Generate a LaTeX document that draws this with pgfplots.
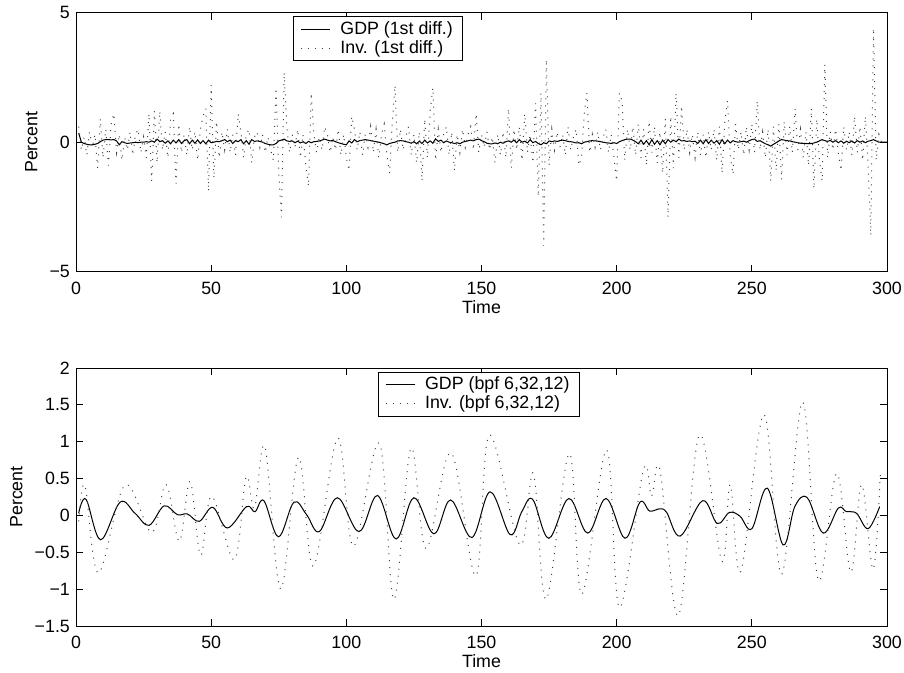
\documentclass[border=0pt]{standalone}
\usepackage{fontspec}
\setmainfont{Liberation Sans}
\usepackage{pgfplots}
\usepackage{pgfplotstable}
\pgfplotsset{compat=1.18}

\pgfplotstableread{
t gdp inv
1 0.35 0.6
2 0.0 -0.3
3 -0.05 0.2
4 -0.08 -0.5
5 -0.1 0.4
6 -0.1 -0.2
7 -0.08 0.3
8 -0.05 -1.0
9 0.02 0.9
10 0.08 -0.6
11 0.1 0.5
12 0.1 -0.9
13 0.09 0.7
14 0.1 1.1
15 0.05 -0.4
16 -0.1 0.3
17 0.02 -0.7
18 -0.02 0.2
19 -0.05 -0.3
20 -0.03 0.4
21 -0.02 -0.5
22 0.0 0.3
23 -0.02 0.5
24 0.0 -0.4
25 0.0 0.2
26 0.02 -0.6
27 0.0 1.1
28 0.05 -1.5
29 0.0 1.2
30 0.12 -0.8
31 0.02 1.2
32 0.06 -0.3
33 -0.04 0.4
34 0.05 -0.6
35 -0.06 0.9
36 0.08 1.1
37 -0.03 -1.6
38 0.1 0.7
39 -0.05 -0.4
40 0.06 0.3
41 0.1 -0.5
42 -0.06 0.6
43 0.08 -0.3
44 -0.04 0.4
45 0.09 -0.7
46 -0.05 0.5
47 0.06 1.0
48 -0.06 1.3
49 0.08 -1.9
50 -0.02 2.2
51 0.0 -1.4
52 0.03 0.8
53 0.02 -0.6
54 0.06 0.4
55 0.1 -0.3
56 0.02 0.5
57 0.08 -0.4
58 -0.05 0.3
59 0.06 -0.5
60 0.02 1.1
61 0.1 0.4
62 -0.06 -0.6
63 0.06 0.3
64 -0.08 0.5
65 0.1 -0.8
66 0.03 0.2
67 0.05 0.4
68 0.03 -0.2
69 0.0 0.3
70 -0.05 -0.4
71 -0.08 0.2
72 -0.1 -0.3
73 -0.1 -0.7
74 -0.05 2.1
75 0.05 -1.2
76 0.08 -2.9
77 0.12 2.7
78 0.05 0.6
79 0.03 -0.4
80 0.05 0.3
81 -0.02 -0.2
82 0.04 0.5
83 -0.03 -0.6
84 0.02 0.3
85 -0.05 -0.9
86 0.03 -1.7
87 -0.02 1.9
88 0.02 0.3
89 0.03 -0.4
90 0.05 0.2
91 0.08 -0.3
92 0.12 0.6
93 0.08 0.3
94 0.05 -0.4
95 0.07 0.2
96 0.02 -0.3
97 -0.02 0.5
98 -0.05 -0.5
99 -0.08 0.3
100 -0.1 -0.6
101 0.05 -1.1
102 -0.03 1.0
103 0.1 0.5
104 0.02 -0.3
105 0.06 0.4
106 0.08 -0.5
107 0.1 0.3
108 0.08 -0.2
109 0.06 0.6
110 0.04 -0.4
111 0.02 0.5
112 0.0 -0.6
113 -0.03 0.3
114 -0.06 0.7
115 -0.1 -0.5
116 -0.05 -1.2
117 -0.02 0.8
118 0.0 2.2
119 0.05 -0.4
120 0.06 0.5
121 0.05 -0.3
122 0.02 0.2
123 0.0 0.6
124 -0.04 -0.5
125 0.02 0.3
126 -0.06 -0.8
127 0.04 0.4
128 -0.05 -1.5
129 0.08 0.9
130 -0.03 -0.6
131 0.05 1.2
132 -0.04 2.1
133 0.13 -0.7
134 0.03 0.5
135 0.08 -0.4
136 -0.02 0.3
137 0.05 0.6
138 0.0 -0.5
139 -0.02 0.4
140 -0.05 -1.1
141 -0.02 0.3
142 -0.06 -0.4
143 0.0 0.5
144 0.03 -0.2
145 0.05 0.3
146 0.08 0.6
147 0.05 -0.3
148 0.1 1.1
149 0.12 -0.4
150 0.06 0.3
151 0.02 -0.2
152 -0.04 0.4
153 -0.06 -0.3
154 -0.06 0.2
155 -0.03 -0.8
156 -0.06 0.3
157 0.0 -0.5
158 -0.04 0.4
159 0.02 -0.6
160 0.05 1.3
161 0.0 -1.0
162 0.08 0.5
163 -0.02 -0.3
164 0.1 0.6
165 0.0 -0.7
166 0.04 1.1
167 -0.03 -0.4
168 0.1 0.3
169 -0.02 -0.8
170 0.03 1.5
171 -0.05 -2.1
172 -0.1 1.9
173 -0.02 -4.0
174 -0.06 3.2
175 0.05 -0.9
176 0.02 0.5
177 0.05 -0.3
178 0.03 0.4
179 0.06 -0.2
180 0.08 0.3
181 0.06 -0.5
182 0.03 0.6
183 0.02 -0.3
184 0.0 0.2
185 -0.03 0.5
186 -0.02 -0.9
187 -0.06 -0.6
188 0.0 1.1
189 0.02 1.9
190 0.05 -0.4
191 0.06 0.3
192 0.05 -0.2
193 0.04 0.4
194 0.02 -0.3
195 0.0 0.2
196 -0.02 0.5
197 -0.03 -0.4
198 -0.05 0.3
199 -0.02 -0.6
200 -0.05 -1.5
201 0.02 1.9
202 0.06 1.6
203 0.1 -0.7
204 0.12 0.5
205 0.12 -0.3
206 0.08 0.6
207 0.02 -0.5
208 -0.06 0.7
209 0.08 -0.6
210 -0.08 0.5
211 0.06 -0.9
212 -0.1 0.8
213 0.1 -0.4
214 -0.08 0.6
215 0.06 -0.8
216 -0.1 0.4
217 0.08 -1.2
218 -0.06 0.9
219 0.1 -2.9
220 0.0 1.0
221 0.08 -1.0
222 0.02 1.9
223 0.12 -0.6
224 0.05 1.4
225 0.06 -0.3
226 0.03 0.5
227 0.05 -0.4
228 0.02 0.3
229 0.04 -0.6
230 -0.05 0.4
231 0.08 -0.5
232 -0.06 0.3
233 0.1 -0.6
234 -0.05 0.4
235 0.08 -0.3
236 -0.04 0.5
237 0.06 -0.7
238 -0.08 0.6
239 0.1 -1.2
240 -0.06 0.8
241 0.08 1.6
242 -0.03 -0.5
243 0.06 -1.25
244 0.02 0.7
245 0.0 -0.3
246 0.02 0.4
247 0.04 -0.5
248 0.0 0.6
249 0.06 -0.3
250 0.1 0.7
251 0.12 -0.4
252 0.03 1.6
253 0.06 -0.3
254 0.0 0.4
255 -0.06 -0.6
256 -0.1 0.5
257 -0.15 -1.5
258 -0.08 0.6
259 -0.02 -1.1
260 0.05 0.7
261 0.1 -1.45
262 0.08 0.8
263 0.06 -0.5
264 0.05 0.6
265 0.02 -0.4
266 0.0 1.3
267 -0.02 -0.3
268 -0.04 0.5
269 -0.05 -0.6
270 -0.05 0.4
271 -0.06 -0.9
272 -0.05 1.3
273 -0.03 -1.8
274 0.0 0.9
275 0.05 -0.7
276 0.1 -1.5
277 0.06 3.0
278 0.03 -0.6
279 0.07 0.4
280 0.0 -0.3
281 0.06 0.5
282 -0.02 -0.4
283 0.05 -1.1
284 -0.04 0.6
285 0.04 -0.3
286 -0.02 0.4
287 0.05 -0.5
288 -0.03 1.0
289 0.06 -0.4
290 0.0 0.6
291 0.05 -0.7
292 -0.02 1.0
293 0.04 -0.9
294 0.06 -3.6
295 0.1 4.4
296 0.05 -0.7
297 0.0 0.3
298 0.0 0.0
299 0.0 0.0
300 0.0 0.0
}\diffdata

\pgfplotstableread{
t v
1 0.03
3.7 0.22
9.1 -0.33
16.3 0.18
21.8 0.03
27 -0.135
32.6 0.13
37.5 0.01
41.2 0.02
45.6 -0.08
50.6 0.11
56 -0.17
63.1 0.12
66.2 0.05
69.5 0.2
74.9 -0.29
80.6 0.18
85.3 0.01
90 -0.22
96.7 0.24
104.7 -0.22
111.5 0.27
118.4 -0.32
125 0.24
132.4 -0.25
138.6 0.21
146.4 -0.30
153.2 0.32
160.6 -0.26
164.9 0.05
168.9 0.22
174.9 -0.31
182.3 0.23
189.3 -0.24
196.1 0.23
203.1 -0.31
208.6 0.18
212.2 0.06
216 0.09
218.5 0.04
223.5 -0.28
231.8 0.2
237.2 -0.11
241.7 0.04
245.6 -0.01
250 -0.18
255.7 0.37
261.6 -0.40
265.9 0.12
270.5 0.24
276.4 -0.24
282 0.1
285 0.05
288.7 0.03
293 -0.18
297.3 0.12
}\gdpbpf

\pgfplotstableread{
t v
1 -0.08
3.3 0.41
8.3 -0.78
18.1 0.41
28 -0.23
33.3 0.42
38.2 -0.35
42.2 0.46
46.1 -0.54
50.2 0.26
58.6 -0.60
62.9 0.52
66 0.1
69.9 0.93
75.7 -1.0
82.3 0.79
87.8 -0.69
96.8 1.05
102.6 -0.42
112.2 0.98
117.6 -1.14
123.9 0.91
129.5 -0.45
138.7 0.85
147.9 -0.82
152.9 1.09
164.2 -0.4
169.2 0.57
173.9 -1.14
182.5 0.84
187.1 -1.07
196.3 0.89
201 -1.25
209.9 0.62
212.9 0.26
216 0.62
222.8 -1.36
230.6 1.09
238.9 -0.62
242 0.42
245.9 -0.76
254.5 1.37
261 -0.8
268.8 1.54
274.6 -0.88
281.4 0.57
286.6 -0.77
290.6 0.42
294.9 -0.73
297.6 0.62
}\invbpf

\pgfplotsset{
  matstyle/.style={
    scale only axis, width=811bp, height=259bp,
    xmin=0, xmax=300, xtick={0,50,...,300},
    tick align=inside, major tick length=7bp,
    axis line style={line width=1bp},
    every tick/.style={black, line width=0.8bp},
    /pgf/number format/assume math mode=true,
    xticklabel style={yshift=-4bp},
    xlabel={Time}, ylabel={Percent},
    xlabel style={yshift=6bp},
    legend cell align=left,
    legend image code/.code={\draw[##1] (0bp,0bp) -- (29bp,0bp);},
    legend style={draw=black, line width=0.8bp, fill=white,
      inner xsep=7bp, inner ysep=3bp,
      nodes={inner xsep=3bp, inner ysep=1.8bp},
      /tikz/every odd column/.append style={column sep=7bp}},
  },
  gdpline/.style={black, line width=1bp},
  invline/.style={black!75, line width=1bp, dash pattern=on 1bp off 6bp},
}

\begin{document}
\fontsize{17.8bp}{21bp}\selectfont
\begin{tikzpicture}
\path[use as bounding box] (0,0) rectangle (904bp,-673bp);
\begin{axis}[matstyle, at={(76bp,-12.7bp)}, anchor=north west,
  ymin=-5, ymax=5, ytick={-5,0,5}, yticklabels={−5,0,5},
  legend style={at={(0.2676,0.987)}, anchor=north west}]
\addplot[gdpline] table[x=t, y=gdp] {\diffdata};
\addlegendentry{GDP (1st diff.)\hspace{17bp}}
\addplot[invline] table[x=t, y=inv] {\diffdata};
\addlegendentry{Inv. (1st diff.)\hspace{17bp}}
\end{axis}
\begin{axis}[matstyle, at={(76bp,-368bp)}, anchor=north west, height=258bp,
  ymin=-1.5, ymax=2, ytick={-1.5,-1,...,2},
  yticklabels={−1.5,−1,−0.5,0,0.5,1,1.5,2},
  legend style={at={(0.372,0.986)}, anchor=north west}]
\addplot[gdpline, smooth, tension=0.6] table[x=t, y=v] {\gdpbpf};
\addlegendentry{GDP (bpf 6,32,12)\hspace{21bp}}
\addplot[invline, smooth, tension=0.6] table[x=t, y=v] {\invbpf};
\addlegendentry{Inv. (bpf 6,32,12)\hspace{21bp}}
\end{axis}
\end{tikzpicture}
\end{document}
